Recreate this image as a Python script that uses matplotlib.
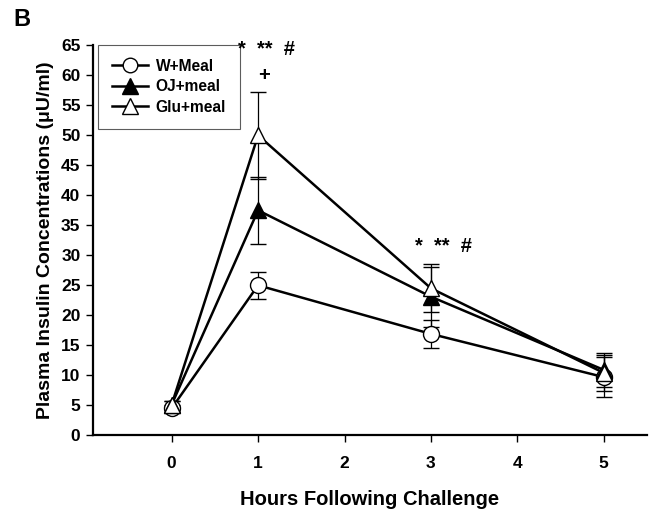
import matplotlib
matplotlib.use("Agg")
import matplotlib.pyplot as plt
from matplotlib.lines import Line2D

plt.rcParams['font.family'] = ['Liberation Sans', 'DejaVu Sans']
plt.rcParams['font.weight'] = 'bold'

hours = [0, 1, 3, 5]

w_meal = [4.4, 24.9, 16.8, 9.6]
w_meal_err = [0.6, 2.2, 2.3, 3.3]

oj_meal = [5.0, 37.4, 23.0, 10.8]
oj_meal_err = [0.6, 5.6, 5.0, 2.8]

glu_meal = [5.0, 49.9, 24.4, 10.3]
glu_meal_err = [0.6, 7.2, 4.0, 3.0]

labels = ["W+Meal", "OJ+meal", "Glu+meal"]
markers = ['o', '^', '^']
faces = ['white', 'black', 'white']
y_ticks = list(range(0, 70, 5))
x_ticks = [0, 1, 2, 3, 4, 5]

fig = plt.figure(figsize=(6.49, 5.09), dpi=100)
ax = fig.add_axes([93/649, 1 - 434.7/509, (647 - 93)/649, (434.7 - 44.7)/509])

common = dict(color='black', lw=1.8, capsize=6, elinewidth=0.9, capthick=0.9,
              markeredgecolor='black', markeredgewidth=1.0, zorder=3)
series = [(w_meal, w_meal_err), (oj_meal, oj_meal_err), (glu_meal, glu_meal_err)]
handles = []
for (vals, errs), m, fc, lab in zip(series, markers, faces, labels):
    ms = 11.5 if m == 'o' else 12
    ax.errorbar(hours, vals, yerr=errs, marker=m, markersize=ms,
                markerfacecolor=fc, **common)
    handles.append(Line2D([], [], color='black', lw=1.8, marker=m, markersize=ms - 1,
                          markerfacecolor=fc, markeredgecolor='black',
                          markeredgewidth=1.0, label=lab))

ax.set_xlim(-0.91, 5.5)
ax.set_ylim(0, 65)
ax.set_xticks(x_ticks)
ax.set_yticks(y_ticks)
ax.tick_params(axis='both', direction='out', length=5, width=1, labelsize=12.5)
ax.tick_params(axis='x', pad=10)
ax.tick_params(axis='y', pad=4)
for lab in ax.get_xticklabels() + ax.get_yticklabels():
    lab.set_fontweight('bold')
for side in ['top', 'right']:
    ax.spines[side].set_visible(False)
for side in ['left', 'bottom']:
    ax.spines[side].set_linewidth(1.6)

ax.set_xlabel("Hours Following Challenge", fontsize=14.5, fontweight='bold', labelpad=14)
ax.set_ylabel("Plasma Insulin Concentrations (\u03bcU/ml)", fontsize=14, fontweight='bold', labelpad=5)

leg = ax.legend(handles=handles, loc='upper left', bbox_to_anchor=(0.009, 1.0),
                borderaxespad=0, frameon=True, fancybox=False, edgecolor='#333333',
                handlelength=2.3, borderpad=0.9, labelspacing=0.35, handletextpad=0.5,
                prop={'weight': 'bold', 'size': 11.2})
leg.get_frame().set_linewidth(0.8)
leg.set_zorder(2)

# significance markers
ax.text(1.10, 64.2, "*  **  #", ha='center', va='center', fontsize=14.5,
        fontweight='bold', clip_on=False, zorder=5)
ax.text(1.07, 59.8, "+", ha='center', va='center', fontsize=14.5, fontweight='bold')
ax.text(3.14, 31.3, "*  **  #", ha='center', va='center', fontsize=14.5, fontweight='bold')

fig.text(13/649, 1 - 19/509, "B", fontsize=17, fontweight='bold', ha='left', va='center')

fig.savefig("out.png", dpi=100)
